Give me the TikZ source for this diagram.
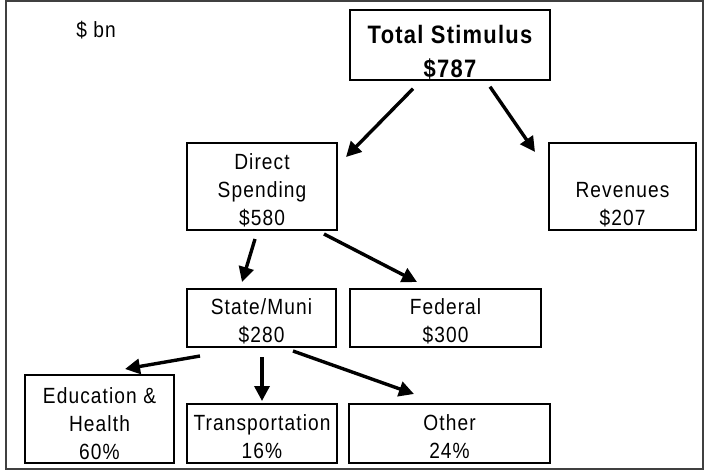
\documentclass[tikz,border=0pt]{standalone}
\usepackage{fontspec}
\setmainfont{Liberation Sans}[FakeStretch=0.87, LetterSpace=5]
\usepackage{tikz}
\usetikzlibrary{arrows.meta, calc}
\newcommand{\figArrow}{{Triangle[length=7.5pt, width=7.5pt]}}
\newcommand{\topgap}[1]{\rule{0pt}{#1}}

\begin{document}
\begin{tikzpicture}[x=0.5pt, y=-0.5pt,
	font=\fontsize{11}{14}\selectfont,
	box/.style={draw, line width=1pt, align=center, inner sep=0pt},
	arr/.style={line width=1.7pt, -\figArrow},
	frame/.style={draw=black!75, line width=1.2pt}]
	\useasboundingbox (0,0) rectangle (706,471);
	\draw[frame]	(6,1) rectangle (703,469);
	
	\node (bn) at (96,30) {\$ bn};
	\node[box, minimum width=100pt, minimum height=34pt, font=\bfseries\fontsize{12.6}{17}\selectfont] (tot) at (450,45) {\topgap{16.8pt}Total Stimulus\\\$787};
	
	\foreach \name/\x/\y/\w/\h/\s/\txt in {dir/262/186.5/75/43.5/12/{Direct\\Spending\\\$580}, rev/622.5/186.5/73.5/43.5/26/{Revenues\\\$207}, sta/261.5/318/74.5/29/11/{State/Muni\\\$280}, fed/445.5/318/95.5/29/11/{Federal\\\$300}, edu/99.5/419/74.5/44/13/{Education \&\\Health\\60\%}, tra/262/433.5/75/29.5/11/{Transportation\\16\%}, oth/449.5/433.5/100.5/29.5/11/{Other\\24\%}} {
		\node[box, minimum width=\w pt, minimum height=\h pt] (\name) at (\x,\y) {\topgap{\s pt}\txt};
	}
	
	\foreach \a/\ax/\ay/\b/\bx/\by in {tot.south/-37/8/dir.north east/8/15, tot.south/40/6/rev.north west/-13/10, dir.south/-7/8/sta.north/-19.5/-6, dir.south east/-14/3/fed.north/-28.5/-6, sta.south/-61.5/8/edu.north east/-50/-5, sta.south/0.5/9/tra.north/0/-2, sta.south east/-44/3/oth.north west/66/-9} {
		\draw[arr]	($(\a)+(\ax,\ay)$) -- ($(\b)+(\bx,\by)$);
	}
	
\end{tikzpicture}
\end{document}
